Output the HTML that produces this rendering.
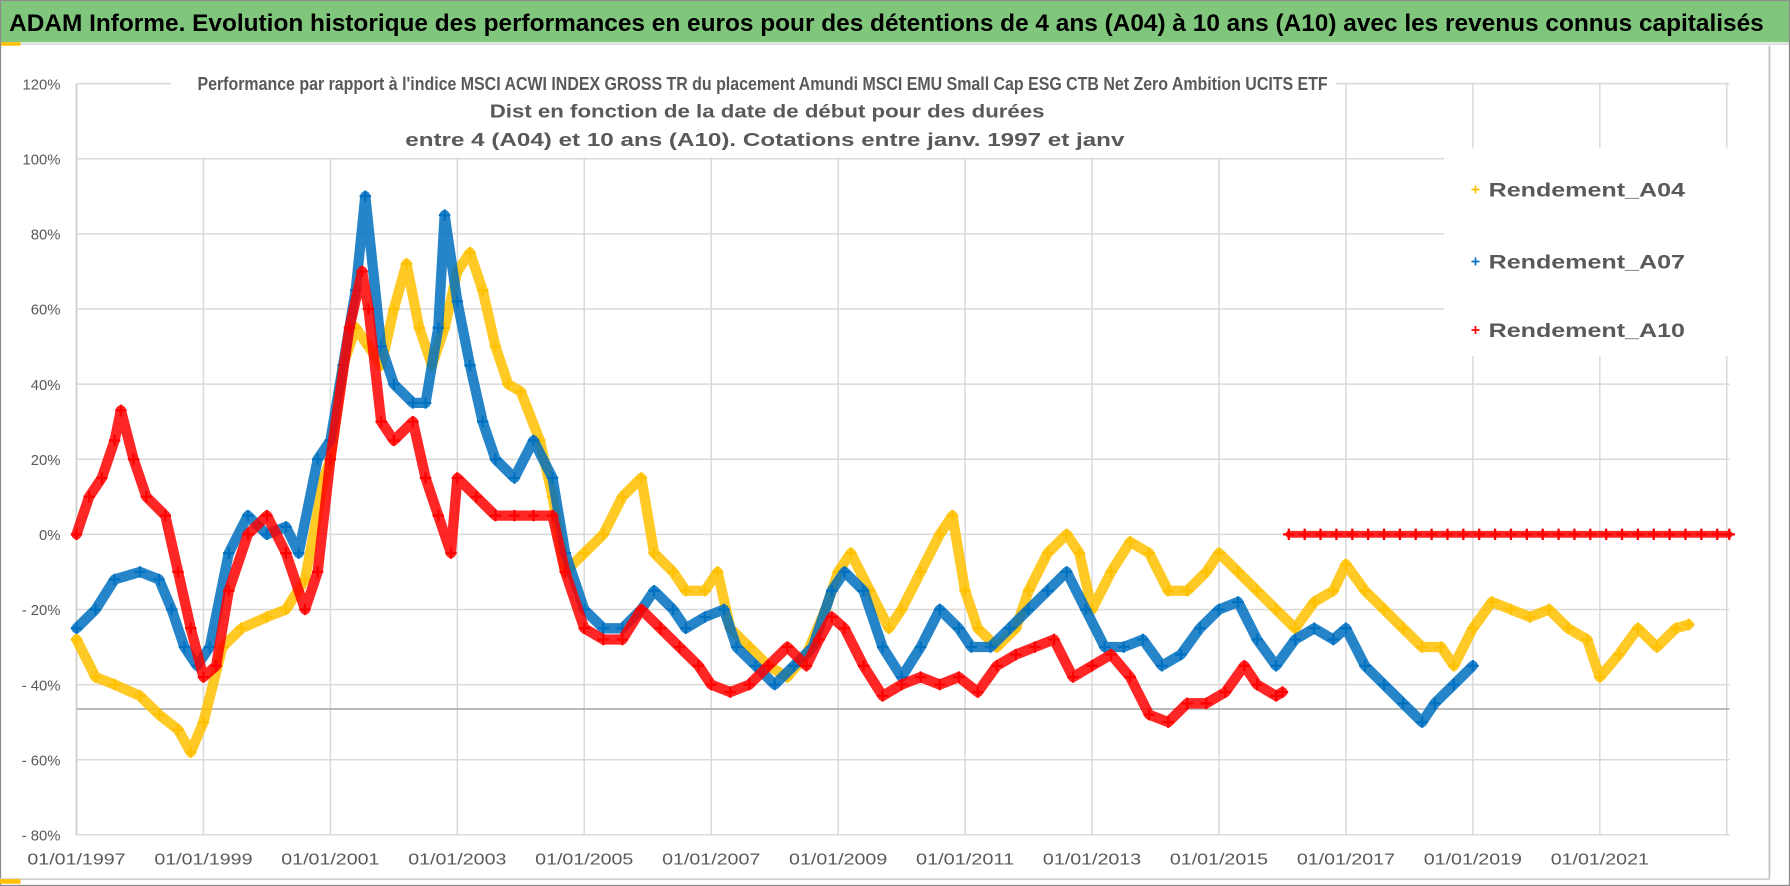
<!DOCTYPE html>
<html><head><meta charset="utf-8"><style>
html,body{margin:0;padding:0;background:#fff;}
svg{display:block;font-family:"Liberation Sans",sans-serif;}
</style></head><body>
<svg id="chart" width="1790" height="886" viewBox="0 0 1568 776" preserveAspectRatio="none" xmlns="http://www.w3.org/2000/svg">
<rect x="0" y="0" width="1568" height="776" fill="#fff"/>
<rect x="0" y="0" width="1568" height="37" fill="#80c67c"/>
<text x="8" y="27" font-size="21" font-weight="bold" fill="#000" textLength="1537" lengthAdjust="spacingAndGlyphs">ADAM Informe. Evolution historique des performances en euros pour des détentions de 4 ans (A04) à 10 ans (A10) avec les revenus connus capitalisés</text>
<rect x="0" y="37" width="18" height="3" fill="#ffc000"/>
<line x1="18" y1="38.5" x2="1568" y2="38.5" stroke="#d9d9d9" stroke-width="1.5"/>
<rect x="0.5" y="0.5" width="1567" height="775" fill="none" stroke="#8c8c8c" stroke-width="1"/>
<line x1="1550" y1="40" x2="1550" y2="770" stroke="#bfbfbf" stroke-width="1.5"/>
<line x1="0" y1="770" x2="1550" y2="770" stroke="#d0d0d0" stroke-width="1.5"/>
<rect x="0" y="770" width="18" height="4" fill="#ffc000"/>
<g id="grid"></g>
<g id="yaxis"></g>
<g id="xaxis"></g>
<g id="series"></g>
<rect x="150" y="56" width="1020" height="82" fill="#fff"/>
<g font-weight="bold" fill="#595959" font-size="16" text-anchor="middle">
<text x="668" y="79" textLength="990" lengthAdjust="spacingAndGlyphs">Performance par rapport à l'indice MSCI ACWI INDEX GROSS TR  du placement Amundi MSCI EMU Small Cap ESG CTB Net Zero Ambition UCITS ETF</text>
<text x="672" y="103" textLength="486" lengthAdjust="spacingAndGlyphs">Dist en fonction de la date de début pour des durées</text>
<text x="670" y="128" textLength="630" lengthAdjust="spacingAndGlyphs">entre 4 (A04) et 10 ans (A10).  Cotations entre janv. 1997 et janv</text>
</g>
<g>
<rect x="1265" y="130" width="262" height="182" fill="#fff"/>
<g>
<path d="M1289 166h7M1292.5 162.5v7" stroke="#ffc000" stroke-width="1.5"/>
<text x="1304" y="172" font-size="17" font-weight="bold" fill="#595959" textLength="172" lengthAdjust="spacingAndGlyphs">Rendement_A04</text></g>
<g>
<path d="M1289 229h7M1292.5 225.5v7" stroke="#0070c0" stroke-width="1.5"/>
<text x="1304" y="235" font-size="17" font-weight="bold" fill="#595959" textLength="172" lengthAdjust="spacingAndGlyphs">Rendement_A07</text></g>
<g>
<path d="M1289 289h7M1292.5 285.5v7" stroke="#ff0000" stroke-width="1.5"/>
<text x="1304" y="295" font-size="17" font-weight="bold" fill="#595959" textLength="172" lengthAdjust="spacingAndGlyphs">Rendement_A10</text></g>
</g>
</svg>
<script>
const yTicks = [120,100,80,60,40,20,0,-20,-40,-60,-80];
const yTickLabels = ["120%","100%","80%","60%","40%","20%","0%","- 20%","- 40%","- 60%","- 80%"];
const xTicks = [1997,1999,2001,2003,2005,2007,2009,2011,2013,2015,2017,2019,2021];
const xTickLabels = ["01/01/1997","01/01/1999","01/01/2001","01/01/2003","01/01/2005","01/01/2007","01/01/2009","01/01/2011","01/01/2013","01/01/2015","01/01/2017","01/01/2019","01/01/2021"];
const refLineValue = -46.5;

const a04Dates = [1997.0,1997.3,1997.6,1998.0,1998.3,1998.6,1998.8,1999.0,1999.3,1999.6,2000.0,2000.3,2000.6,2000.9,2001.0,2001.2,2001.4,2001.6,2001.8,2002.0,2002.2,2002.4,2002.6,2002.8,2003.0,2003.2,2003.4,2003.6,2003.8,2004.0,2004.3,2004.5,2004.7,2005.0,2005.3,2005.6,2005.9,2006.1,2006.4,2006.6,2006.9,2007.1,2007.3,2007.6,2007.9,2008.2,2008.5,2008.8,2009.0,2009.2,2009.5,2009.8,2010.0,2010.3,2010.6,2010.8,2011.0,2011.2,2011.5,2011.8,2012.0,2012.3,2012.6,2012.8,2013.0,2013.3,2013.6,2013.9,2014.2,2014.5,2014.8,2015.0,2015.3,2015.6,2015.9,2016.2,2016.5,2016.8,2017.0,2017.3,2017.6,2017.9,2018.2,2018.5,2018.7,2019.0,2019.3,2019.6,2019.9,2020.2,2020.5,2020.8,2021.0,2021.3,2021.6,2021.9,2022.2,2022.4];
const a04Values = [-28,-38,-40,-43,-48,-52,-58,-50,-30,-25,-22,-20,-12,15,20,45,55,50,45,60,72,55,45,55,70,75,65,50,40,38,25,10,-10,-5,0,10,15,-5,-10,-15,-15,-10,-25,-30,-35,-38,-32,-20,-10,-5,-15,-25,-20,-10,0,5,-15,-25,-30,-25,-15,-5,0,-5,-20,-10,-2,-5,-15,-15,-10,-5,-10,-15,-20,-25,-18,-15,-8,-15,-20,-25,-30,-30,-35,-25,-18,-20,-22,-20,-25,-28,-38,-32,-25,-30,-25,-24];

const a07Dates = [1997.0,1997.3,1997.6,1998.0,1998.3,1998.5,1998.7,1998.9,1999.1,1999.4,1999.7,2000.0,2000.3,2000.5,2000.8,2001.0,2001.2,2001.4,2001.55,2001.8,2002.0,2002.3,2002.5,2002.7,2002.8,2003.0,2003.2,2003.4,2003.6,2003.9,2004.2,2004.5,2004.7,2005.0,2005.3,2005.6,2005.9,2006.1,2006.4,2006.6,2006.9,2007.2,2007.4,2007.7,2008.0,2008.3,2008.6,2008.9,2009.1,2009.4,2009.7,2010.0,2010.3,2010.6,2010.9,2011.1,2011.4,2011.7,2012.0,2012.3,2012.6,2012.9,2013.2,2013.5,2013.8,2014.1,2014.4,2014.7,2015.0,2015.3,2015.6,2015.9,2016.2,2016.5,2016.8,2017.0,2017.3,2017.6,2017.9,2018.2,2018.4,2018.7,2019.0];
const a07Values = [-25,-20,-12,-10,-12,-20,-30,-35,-30,-5,5,0,2,-5,20,25,45,65,90,50,40,35,35,55,85,62,45,30,20,15,25,15,-5,-20,-25,-25,-20,-15,-20,-25,-22,-20,-30,-35,-40,-35,-30,-15,-10,-15,-30,-38,-30,-20,-25,-30,-30,-25,-20,-15,-10,-20,-30,-30,-28,-35,-32,-25,-20,-18,-28,-35,-28,-25,-28,-25,-35,-40,-45,-50,-45,-40,-35];

const a10Dates = [1997.0,1997.2,1997.4,1997.6,1997.7,1997.9,1998.1,1998.4,1998.6,1998.8,1999.0,1999.2,1999.4,1999.7,2000.0,2000.3,2000.6,2000.8,2001.0,2001.3,2001.5,2001.6,2001.8,2002.0,2002.3,2002.5,2002.7,2002.9,2003.0,2003.3,2003.6,2003.9,2004.2,2004.5,2004.7,2005.0,2005.3,2005.6,2005.9,2006.2,2006.5,2006.8,2007.0,2007.3,2007.6,2007.9,2008.2,2008.5,2008.7,2008.9,2009.1,2009.4,2009.7,2010.0,2010.3,2010.6,2010.9,2011.2,2011.5,2011.8,2012.1,2012.4,2012.7,2013.0,2013.3,2013.6,2013.9,2014.2,2014.5,2014.8,2015.1,2015.4,2015.6,2015.9,2016.0];
const a10Values = [0,10,15,25,33,20,10,5,-10,-25,-38,-35,-15,0,5,-5,-20,-10,20,55,70,60,30,25,30,15,5,-5,15,10,5,5,5,5,-10,-25,-28,-28,-20,-25,-30,-35,-40,-42,-40,-35,-30,-35,-28,-22,-25,-35,-43,-40,-38,-40,-38,-42,-35,-32,-30,-28,-38,-35,-32,-38,-48,-50,-45,-45,-42,-35,-40,-43,-42];
const a10ZeroDates = [2016.1,2016.35,2016.6,2016.85,2017.1,2017.35,2017.6,2017.85,2018.1,2018.35,2018.6,2018.85,2019.1,2019.35,2019.6,2019.85,2020.1,2020.35,2020.6,2020.85,2021.1,2021.35,2021.6,2021.85,2022.1,2022.35,2022.6,2022.85,2023.04];
const a10ZeroValues = [0,0,0,0,0,0,0,0,0,0,0,0,0,0,0,0,0,0,0,0,0,0,0,0,0,0,0,0,0];

const NS = "http://www.w3.org/2000/svg";
const X0 = 67, PX_PER_YEAR = 55.6, Y0 = 468, PX_PER_PCT = 3.29, XEND = 1515;
function xScale(d){ return X0 + (d - 1997) * PX_PER_YEAR; }
function yScale(v){ return Y0 - v * PX_PER_PCT; }
function mk(tag, attrs, parent){ const e = document.createElementNS(NS, tag); for (const k in attrs) e.setAttribute(k, attrs[k]); parent.appendChild(e); return e; }

const grid = document.getElementById('grid');
const yaxis = document.getElementById('yaxis');
const xaxis = document.getElementById('xaxis');
const series = document.getElementById('series');

yTicks.forEach((t, i) => {
  const l = mk('line', {x1: X0, x2: XEND, y1: yScale(t), y2: yScale(t), stroke: '#d9d9d9', 'stroke-width': 1.3}, grid);
  
  
  const tx = mk('text', {x: 53, y: yScale(t) + 5, 'font-size': 13, fill: '#595959', 'text-anchor': 'end'}, yaxis);
  tx.textContent = yTickLabels[i];
  
  
});
xTicks.concat([2023]).forEach((t) => {
  const l = mk('line', {x1: xScale(t), x2: xScale(t), y1: yScale(120), y2: yScale(-80), stroke: '#d9d9d9', 'stroke-width': 1.3}, grid);
  
  
});
xTicks.forEach((t, i) => {
  const tx = mk('text', {x: xScale(t), y: 757, 'font-size': 14, fill: '#595959', 'text-anchor': 'middle', textLength: 86, lengthAdjust: 'spacingAndGlyphs'}, xaxis);
  tx.textContent = xTickLabels[i];
  
  
});
const ax = mk('line', {x1: X0, x2: X0, y1: yScale(120), y2: yScale(-80), stroke: '#d0d0d0', 'stroke-width': 1.5}, grid);


const ref = mk('line', {x1: X0, x2: XEND, y1: yScale(refLineValue), y2: yScale(refLineValue), stroke: '#b0b0b0', 'stroke-width': 1.5}, grid);



function drawSeries(dates, vals, color, name, width){
  const g = mk('g', {}, series);
  
  
  const pts = dates.map((d, i) => xScale(d).toFixed(1) + ',' + yScale(vals[i]).toFixed(1)).join(' ');
  const pl = mk('polyline', {points: pts, fill: 'none', stroke: color, 'stroke-width': width, 'stroke-linejoin': 'round', 'stroke-linecap': 'round', opacity: 0.85}, g);
  
  
  dates.forEach((d, i) => {
    const x = xScale(d), y = yScale(vals[i]);
    const m = mk('path', {d: `M${x-5},${y}h10M${x},${y-5}v10`, stroke: color, 'stroke-width': 2}, g);
    
    
  });
}
drawSeries(a04Dates, a04Values, '#ffc000', 'series-a04', 9);
drawSeries(a07Dates, a07Values, '#0070c0', 'series-a07', 9);
drawSeries(a10Dates, a10Values, '#ff0000', 'series-a10', 9);
drawSeries(a10ZeroDates, a10ZeroValues, '#ff0000', 'series-a10-zero', 6);
</script>
</body></html>
